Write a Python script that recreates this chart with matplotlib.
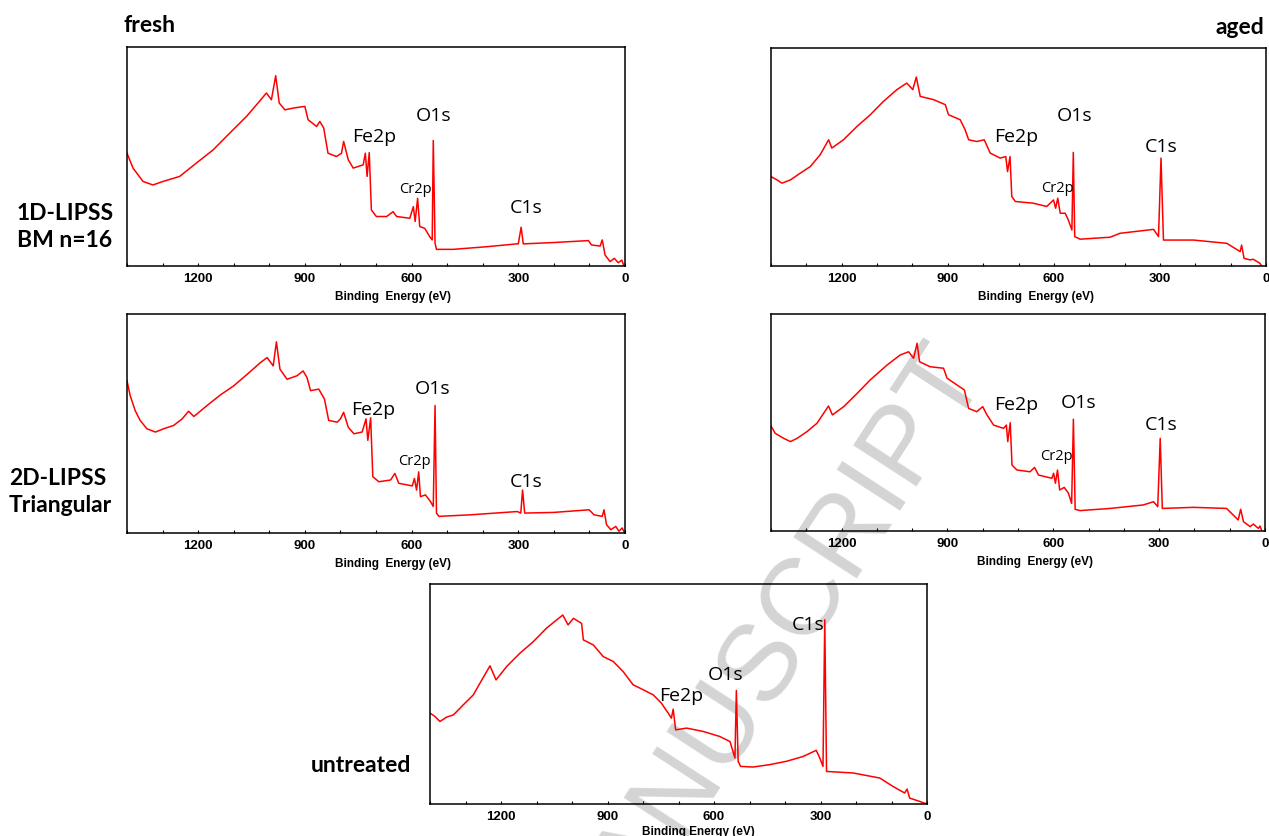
import numpy as np
import matplotlib.pyplot as plt

# XPS survey spectra, binding energy (eV) vs intensity (arb. units, 0-100 of panel height)

# fresh, 1D-LIPSS BM n=16
be_f1 = [1400, 1383, 1355, 1327, 1299, 1252, 1205, 1158, 1111, 1064, 1036, 1008, 994, 982, 972,
         956, 933, 900, 891, 867, 858, 847, 835, 811, 797, 791, 778, 764, 736, 730, 725, 719,
         713, 699, 670, 652, 642, 605, 595, 590, 583, 577, 563, 549, 542, 539, 534, 530, 483,
         389, 305, 300, 292, 286, 202, 103, 94, 70, 64, 56, 42, 30, 19, 9, 3]
int_f1 = [51.5, 44.7, 38.6, 37.0, 38.6, 40.9, 47.0, 53.0, 60.7, 68.3, 73.6, 79.0, 75.9, 86.9, 74.4,
          71.3, 72.1, 72.9, 66.8, 63.7, 66.0, 63.0, 51.5, 50.0, 51.5, 56.9, 48.5, 44.7, 46.2, 51.5, 40.9, 51.8,
          25.6, 22.6, 22.6, 24.8, 22.6, 21.8, 27.1, 20.3, 30.9, 18.0, 17.2, 13.4, 11.9, 57.3, 10.4, 7.6, 7.6,
          8.8, 10.1, 10.1, 17.7, 10.1, 10.7, 11.6, 9.6, 9.1, 11.9, 5.0, 2.0, 3.5, 1.5, 2.7, 0.0]

# aged, 1D-LIPSS BM n=16
be_a1 = [1400, 1383, 1369, 1345, 1317, 1289, 1261, 1237, 1228, 1195, 1157, 1119, 1082, 1044, 1016,
         999, 989, 978, 940, 907, 898, 865, 851, 841, 818, 797, 780, 752, 736, 731, 724, 719, 709,
         658, 620, 601, 595, 589, 582, 568, 559, 549, 545, 541, 526, 441, 413, 318, 304, 297, 290,
         205, 111, 73, 69, 62, 45, 36, 17, 12]
int_a1 = [41.0, 39.5, 38.0, 39.5, 42.6, 45.6, 51.0, 57.9, 54.1, 57.9, 64.0, 69.4, 75.5, 80.9, 83.9,
          80.9, 86.7, 77.8, 76.3, 74.0, 69.4, 67.1, 62.5, 57.9, 57.1, 57.9, 51.8, 49.5, 50.2, 43.3, 50.2,
          31.9, 29.6, 28.8, 27.3, 30.3, 26.5, 31.1, 24.2, 24.2, 21.1, 16.5, 52.1, 13.5, 12.3, 13.2, 15.0,
          16.8, 13.5, 49.5, 11.9, 11.9, 10.4, 6.6, 9.6, 3.5, 2.8, 3.1, 1.2, 0.0]

# fresh, 2D-LIPSS Triangular
be_f2 = [1400, 1391, 1377, 1363, 1344, 1320, 1297, 1269, 1245, 1227, 1212, 1175, 1137, 1100, 1062,
         1025, 1006, 989, 980, 970, 950, 922, 905, 894, 884, 861, 845, 833, 809, 800, 791, 778, 762,
         739, 728, 723, 715, 709, 692, 659, 647, 636, 598, 592, 586, 580, 575, 561, 547, 539, 534,
         530, 523, 434, 303, 293, 288, 282, 200, 101, 87, 64, 59, 52, 40, 26, 17, 8, 1]
int_f2 = [69.5, 62.7, 55.9, 51.4, 47.6, 46.1, 47.6, 49.1, 52.1, 55.6, 53.2, 58.2, 63.1, 67.2, 72.5,
          77.8, 80.1, 76.3, 87.3, 74.8, 70.2, 71.8, 74.0, 71.0, 65.0, 65.7, 61.2, 51.4, 50.6, 52.1, 55.1,
          48.3, 45.3, 46.1, 52.1, 42.3, 52.6, 25.7, 23.4, 24.2, 27.2, 22.7, 21.5, 24.9, 19.6, 27.9, 16.6,
          17.4, 14.4, 12.1, 58.2, 9.1, 7.6, 8.3, 9.8, 9.1, 19.6, 9.1, 9.4, 10.6, 8.3, 7.6, 10.6, 3.8,
          1.5, 3.0, 0.8, 2.3, 0.0]

# aged, 2D-LIPSS Triangular
be_a2 = [1400, 1388, 1364, 1345, 1326, 1298, 1270, 1237, 1226, 1194, 1156, 1119, 1071, 1034, 1010,
         996, 986, 979, 949, 911, 901, 873, 852, 840, 817, 800, 788, 769, 741, 733, 729, 722, 717,
         703, 666, 653, 642, 604, 599, 594, 588, 582, 569, 557, 548, 543, 538, 524, 439, 345, 316,
         304, 297, 291, 203, 109, 76, 69, 61, 42, 33, 19, 14, 9]
int_a2 = [48.4, 45.0, 42.7, 41.2, 42.7, 45.8, 49.6, 57.6, 53.5, 57.3, 63.4, 69.6, 76.5, 81.1, 82.6,
          79.6, 86.5, 78.0, 75.7, 75.0, 70.4, 67.3, 65.0, 56.5, 55.0, 57.3, 53.5, 48.8, 47.3, 48.8, 41.2,
          49.9, 30.4, 28.1, 27.3, 29.3, 25.8, 24.3, 26.6, 22.0, 28.1, 18.9, 20.1, 17.4, 12.7, 51.5, 10.0,
          9.4, 10.4, 12.0, 13.5, 11.2, 42.7, 10.4, 10.9, 10.4, 5.1, 10.0, 4.3, 2.0, 3.2, 1.2, 2.3, 0.0]

# untreated
be_u = [1400, 1386, 1372, 1353, 1334, 1306, 1278, 1254, 1231, 1214, 1184, 1147, 1109, 1072, 1043,
        1026, 1011, 996, 973, 968, 940, 912, 884, 856, 828, 799, 771, 748, 729, 720, 715, 708, 677,
        631, 584, 555, 541, 537, 532, 525, 490, 443, 396, 349, 312, 302, 293, 288, 283, 208, 133,
        96, 63, 56, 49, 21, 0]
int_u = [41.3, 39.8, 37.5, 39.5, 40.5, 45.1, 49.6, 56.4, 62.8, 56.4, 62.5, 68.5, 73.8, 79.9, 83.7,
         85.9, 81.4, 84.4, 82.1, 74.6, 72.3, 67.0, 64.8, 60.2, 54.2, 51.9, 49.6, 45.8, 41.3, 39.0, 43.1,
         33.7, 34.5, 33.0, 30.7, 28.4, 20.9, 51.6, 19.4, 17.1, 16.8, 17.9, 19.4, 21.6, 24.4, 20.9, 17.1,
         83.7, 14.8, 14.1, 11.8, 8.0, 5.0, 6.8, 2.7, 1.2, 0.0]

# peak labels: (text, eV, intensity, fontsize)
labels_f1 = [("Fe2p", 706, 58.9, 14), ("O1s", 539, 68.6, 14), ("Cr2p", 589, 35.0, 10.5), ("C1s", 277, 26.4, 14)]
labels_a1 = [("Fe2p", 706, 59.3, 14), ("O1s", 542, 68.9, 14), ("Cr2p", 590, 35.4, 10.5), ("C1s", 297, 54.8, 14)]
labels_f2 = [("Fe2p", 709, 56.2, 14), ("O1s", 542, 65.7, 14), ("Cr2p", 591, 32.8, 10.5), ("C1s", 277, 23.4, 14)]
labels_a2 = [("Fe2p", 706, 58.1, 14), ("O1s", 527, 58.8, 14), ("Cr2p", 590, 34.3, 10.5), ("C1s", 295, 48.8, 14)]
labels_u = [("Fe2p", 693, 48.9, 14), ("O1s", 567, 58.7, 14), ("C1s", 335, 81.4, 14)]

W, H = 1269, 836
fig = plt.figure(figsize=(W / 100, H / 100), dpi=100)

def px_axes(left, top, right, bottom):
    return fig.add_axes([left / W, 1 - bottom / H, (right - left) / W, (bottom - top) / H])

def spectrum(ax, be, inten, labels, xlabel, lab_x, lab_y):
    ax.patch.set_alpha(0)
    ax.plot(be, inten, color='red', lw=1.1)
    ax.set_xlim(1400, 0)
    ax.set_ylim(0, 100)
    ax.set_yticks([])
    ax.set_xticks([1200, 900, 600, 300, 0])
    ax.set_xticks(np.arange(0, 1401, 100), minor=True)
    ax.tick_params(axis='x', which='both', direction='in', length=2.5, width=0.8, pad=5)
    for lab in ax.get_xticklabels():
        lab.set_fontfamily('Liberation Sans')
        lab.set_fontweight('bold')
        lab.set_fontsize(9.5)
    for s in ax.spines.values():
        s.set_linewidth(1.1)
    ax.set_xlabel(xlabel, fontfamily='Liberation Sans', fontweight='bold', fontsize=8.5)
    ax.xaxis.set_label_coords(lab_x, lab_y)
    for txt, x, y, fs in labels:
        ax.text(x, y, txt, fontsize=fs, fontfamily='Open Sans', ha='center', va='center')

ax1 = px_axes(127, 47, 625, 266)
spectrum(ax1, be_f1, int_f1, labels_f1, "Binding  Energy (eV)", 0.535, -0.115)
ax2 = px_axes(771, 48, 1266, 266)
spectrum(ax2, be_a1, int_a1, labels_a1, "Binding  Energy (eV)", 0.535, -0.115)
ax3 = px_axes(127, 314, 625, 533)
spectrum(ax3, be_f2, int_f2, labels_f2, "Binding  Energy (eV)", 0.535, -0.115)
ax4 = px_axes(771, 314, 1265, 531)
spectrum(ax4, be_a2, int_a2, labels_a2, "Binding  Energy (eV)", 0.535, -0.115)
ax5 = px_axes(430, 584, 927, 804)
spectrum(ax5, be_u, int_u, labels_u, "Binding Energy (eV)", 0.54, -0.10)

# row / column headings
head = dict(fontfamily='Lato', fontweight='bold', fontsize=16.5)
fig.text(123 / W, 1 - 26 / H, "fresh", ha='left', va='center', **head)
fig.text(1264 / W, 1 - 27 / H, "aged", ha='right', va='center', **head)
fig.text(17 / W, 1 - 227 / H, "1D-LIPSS\nBM n=16", ha='left', va='center', linespacing=1.3, **head)
fig.text(9 / W, 1 - 492 / H, "2D-LIPSS\nTriangular", ha='left', va='center', linespacing=1.3, **head)
fig.text(311 / W, 1 - 765 / H, "untreated", ha='left', va='center', **head)

# watermark
fig.text(763 / W, 1 - 657 / H, "MANUSCRIPT", fontfamily='Liberation Sans', fontsize=79,
         color='#d4d4d4', rotation=57, rotation_mode='anchor', ha='center', va='center', zorder=-1)

plt.savefig('out.png', dpi=100)
